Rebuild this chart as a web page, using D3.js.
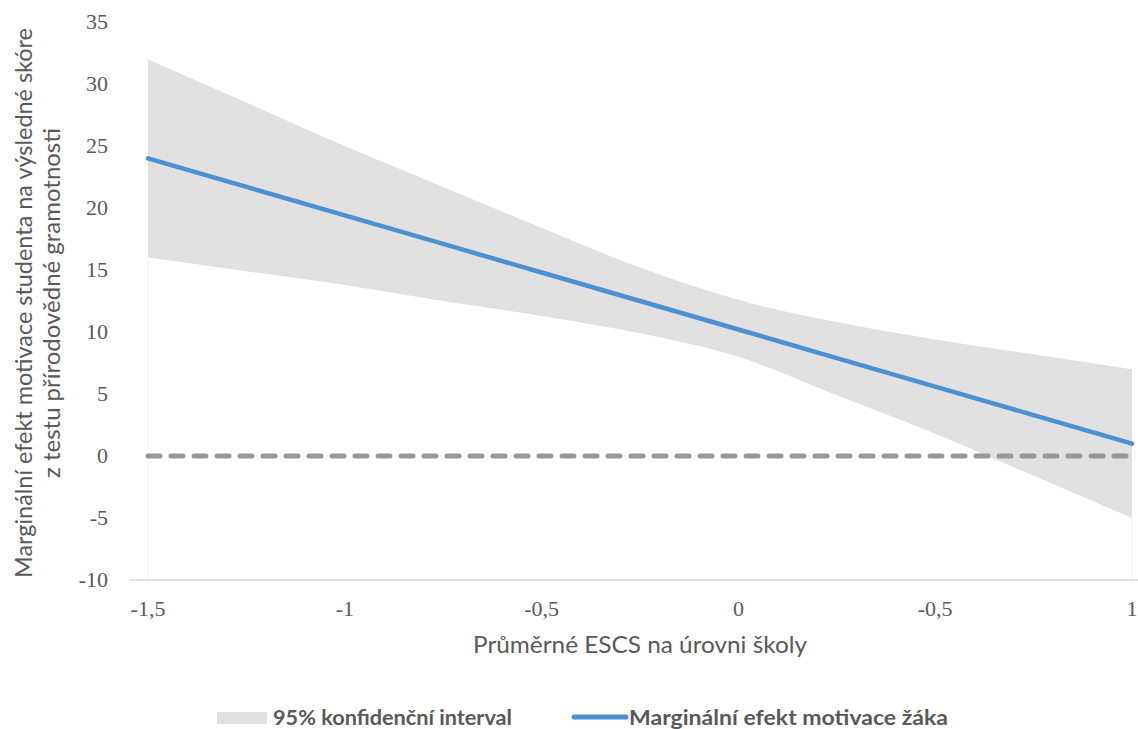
<!DOCTYPE html>
<html>
<head>
<meta charset="utf-8">
<script src="https://cdn.jsdelivr.net/npm/d3@7"></script>
<style>
  body { margin: 0; background: #fff; }
  .tick-label { font-family: "Liberation Serif", "Times New Roman", serif; font-size: 22px; fill: #595959; }
  .title { font-family: Lato, "Open Sans", sans-serif; font-size: 23px; fill: #595959; }
  .legend { font-family: Lato, "Open Sans", sans-serif; font-size: 20px; font-weight: bold; fill: #595959; }
</style>
</head>
<body>
<script>
// values
var escs   = [-1.5, -1.25, -1, -0.75, -0.5, -0.25, 0, 0.25, 0.5, 0.75, 1];
var effect = [24, 21.7, 19.4, 17.1, 14.8, 12.5, 10.2, 7.9, 5.6, 3.3, 1];
var upper  = [32, 28.5, 25.0, 21.7, 18.4, 15.2, 12.6, 10.8, 9.4, 8.2, 7];
var lower  = [16, 14.9, 13.8, 12.5, 11.3, 9.9, 8.0, 4.9, 1.8, -1.6, -5];

var xTicks = [-1.5, -1, -0.5, 0, 0.5, 1];
var xTickLabels = ["-1,5", "-1", "-0,5", "0", "-0,5", "1"];   // as printed in the original
var yTicks = [-10, -5, 0, 5, 10, 15, 20, 25, 30, 35];

var yTitle = ["Marginální efekt motivace studenta na výsledné skóre", "z testu přírodovědné gramotnosti"];
var xTitle = "Průměrné ESCS na úrovni školy";
var legendNames = ["95% konfidenční interval", "Marginální efekt motivace žáka"];

window.onload = function(){
    var w = 1138, h = 729;

    var svg = d3.select("body").append("svg")
        .attr("width", w)
        .attr("height", h);

    var x = d3.scaleLinear().domain([-1.5, 1]).range([148, 1132]);
    var y = d3.scaleLinear().domain([-10, 35]).range([580, 22]);

    var rows = escs.map(function(d, i){
        return {x: d, mid: effect[i], hi: upper[i], lo: lower[i]};
    });

    // confidence band
    var band = d3.area()
        .x(function(d){ return x(d.x); })
        .y0(function(d){ return y(d.lo); })
        .y1(function(d){ return y(d.hi); })
        .curve(d3.curveMonotoneX);

    svg.append("path")
        .datum(rows)
        .attr("d", band)
        .style("fill", "#e1e1e1");

    // faint edges of the (invisible) lower stack
    svg.selectAll(".edge")
        .data([rows[0], rows[rows.length - 1]])
        .enter()
        .append("line")
        .attr("class", "edge")
        .attr("x1", function(d){ return x(d.x); })
        .attr("x2", function(d){ return x(d.x); })
        .attr("y1", function(d){ return y(d.lo); })
        .attr("y2", y(-10))
        .style("stroke", "#f3f3f3")
        .style("stroke-width", 1);

    // x axis line
    svg.append("line")
        .attr("x1", 129).attr("x2", 1138)
        .attr("y1", y(-10)).attr("y2", y(-10))
        .style("stroke", "#d9d9d9")
        .style("stroke-width", 1.5);

    // zero reference line
    svg.append("line")
        .attr("x1", x(-1.5)).attr("x2", x(1))
        .attr("y1", y(0)).attr("y2", y(0))
        .style("stroke", "#989898")
        .style("stroke-width", 5)
        .style("stroke-linecap", "round")
        .style("stroke-dasharray", "12,11");

    // marginal effect line
    var line = d3.line()
        .x(function(d){ return x(d.x); })
        .y(function(d){ return y(d.mid); });

    svg.append("path")
        .datum(rows)
        .attr("d", line)
        .style("fill", "none")
        .style("stroke", "#4a90d2")
        .style("stroke-width", 4.5)
        .style("stroke-linecap", "round");

    // tick labels
    svg.selectAll(".ytick")
        .data(yTicks)
        .enter()
        .append("text")
        .attr("class", "tick-label ytick")
        .attr("text-anchor", "end")
        .attr("x", 108)
        .attr("y", function(d){ return y(d) + 7; })
        .text(function(d){ return d; });

    svg.selectAll(".xtick")
        .data(xTicks)
        .enter()
        .append("text")
        .attr("class", "tick-label xtick")
        .attr("text-anchor", "middle")
        .attr("x", function(d){ return x(d); })
        .attr("y", 616)
        .text(function(d, i){ return xTickLabels[i]; });

    // axis titles
    var yLen = [550, 350];
    svg.selectAll(".ytitle")
        .data(yTitle)
        .enter()
        .append("text")
        .attr("class", "title ytitle")
        .attr("text-anchor", "middle")
        .attr("transform", function(d, i){ return "translate(" + (32 + i * 28) + ",303) rotate(-90)"; })
        .attr("textLength", function(d, i){ return yLen[i]; })
        .attr("lengthAdjust", "spacingAndGlyphs")
        .text(function(d){ return d; });

    svg.append("text")
        .attr("class", "title")
        .attr("text-anchor", "middle")
        .attr("x", 640)
        .attr("y", 653)
        .attr("textLength", 334)
        .attr("lengthAdjust", "spacingAndGlyphs")
        .text(xTitle);

    // legend
    svg.append("rect")
        .attr("x", 217).attr("y", 712)
        .attr("width", 50).attr("height", 12)
        .style("fill", "#e1e1e1");

    svg.append("line")
        .attr("x1", 574).attr("x2", 626)
        .attr("y1", 717).attr("y2", 717)
        .style("stroke", "#4a90d2")
        .style("stroke-width", 5)
        .style("stroke-linecap", "round");

    var legX = [273, 629], legLen = [239, 319];
    svg.selectAll(".legend")
        .data(legendNames)
        .enter()
        .append("text")
        .attr("class", "legend")
        .attr("x", function(d, i){ return legX[i]; })
        .attr("y", 725)
        .attr("textLength", function(d, i){ return legLen[i]; })
        .attr("lengthAdjust", "spacingAndGlyphs")
        .text(function(d){ return d; });
};
</script>
</body>
</html>
